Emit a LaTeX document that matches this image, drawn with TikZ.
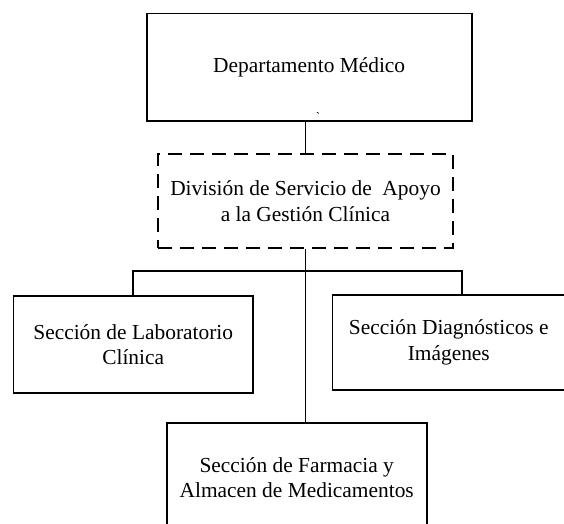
\documentclass[tikz,border=0pt]{standalone}
\usepackage{fontspec}
\setmainfont{Liberation Serif}
\tikzset{
  px/.style={x=1pt,y=-1pt},
  box/.style={draw,line width=1.6pt,align=center,inner sep=0pt,
    font=\fontsize{21.4}{25.5}\selectfont},
  dbox/.style={box,dash pattern=on 14pt off 8pt},
  conn/.style={line width=1.6pt}
}
\begin{document}
\begin{tikzpicture}[px]
\useasboundingbox (0,0) rectangle (564,523);
\clip (0,0) rectangle (564,523);
\node[box,minimum width=325pt,minimum height=107.7pt] (dep) at (309.2,67.2) {Departamento Médico};
\node[font=\fontsize{13}{13}\selectfont,inner sep=0pt] (mark) at (318,117) {\textasciigrave};
\node[dbox,minimum width=295pt,minimum height=94pt] (div) at (305.5,201) {División de Servicio de\ \ Apoyo\\a la Gestión Clínica};
\node[box,minimum width=239.7pt,minimum height=97pt] (lab) at (133.2,344.5) {Sección de Laboratorio\\Clínica};
\node[box,minimum width=232.3pt,minimum height=95pt] (diag) at (448.8,342.5) {Sección Diagnósticos e\\Imágenes};
\node[box,minimum width=260pt,minimum height=110pt] (farm) at (296.7,477.7) {Sección de Farmacia y\\Almacen de Medicamentos};
\coordinate (bus) at (305.5,271);
\coordinate (dtop) at (461.7,295);
\draw[conn] (div.north) -- (div.north |- dep.south);
\draw[conn] (div.south) -- (div.south |- farm.north);
\draw[conn] (lab.north) |- (bus) -| (dtop);
\end{tikzpicture}
\end{document}
